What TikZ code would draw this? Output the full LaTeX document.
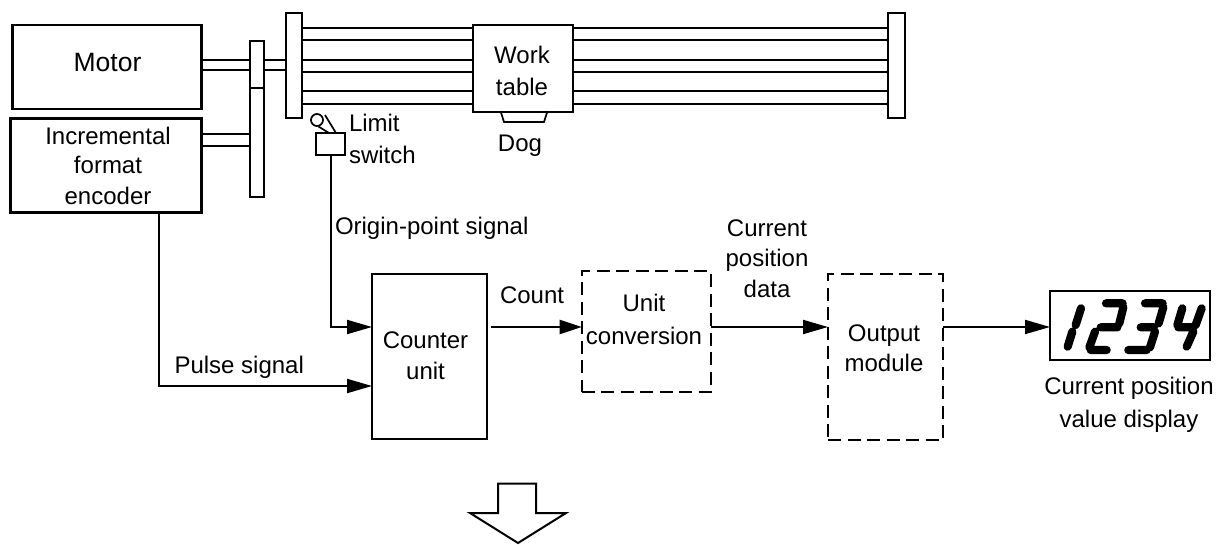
\documentclass[tikz,border=0pt]{standalone}
\usepackage{fontspec}
\setmainfont{Liberation Sans}
\usetikzlibrary{arrows.meta}
\tikzset{
  x=1pt,y=-1pt,
  every node/.style={font=\fontsize{24}{31}\selectfont,inner sep=0pt,outer sep=0pt},
  thickbox/.style={draw,line width=2.6pt,fill=white},
  mech/.style={draw,line width=2pt,fill=white},
  plain/.style={draw,line width=2pt,fill=white},
  dashbox/.style={draw,line width=2pt,dash pattern=on 13pt off 6.5pt,fill=white},
  shaft/.style={line width=2pt},
  rail/.style={line width=2pt},
  sig/.style={line width=2pt,-{Triangle[length=25pt,width=14pt]}},
  lab/.style={align=center},
  seg/.style={line width=8.2pt,line cap=round}
}
\begin{document}
\begin{tikzpicture}
\useasboundingbox (0,0) rectangle (1217,544);
% shafts first
\coordinate (m1) at (201,59.5); \coordinate (m2) at (201,69.5);
\coordinate (e1) at (201,134); \coordinate (e2) at (201,145.5);
\draw[shaft] (m1) -- (286,59.5) (m2) -- (286,69.5) (e1) -- (250,134) (e2) -- (250,145.5);
% rails
\foreach \y in {27.5,40,59.5,72,91,104}{ \draw[rail] (301,\y) -- (888,\y); }
\node[mech,minimum width=14pt,minimum height=156pt,anchor=north west] (gear) at (250,41) {};
\draw[line width=2pt] (250,88) -- (264,88);
\node[mech,minimum width=15.5pt,minimum height=105pt,anchor=north west] (plateL) at (286,13) {};
\node[mech,minimum width=17pt,minimum height=105pt,anchor=north west] (plateR) at (888,13) {};
\node[thickbox,minimum width=189pt,minimum height=84pt,anchor=north west] (motor) at (12.5,25) {};
\node[font=\fontsize{26.5}{31}\selectfont] at (107.5,63) {Motor};
\node[thickbox,minimum width=191pt,minimum height=94pt,anchor=north west] (enc) at (10.5,118.5) {};
\node[lab] at (108,136) {Incremental};
\node[lab] at (108,165) {format};
\node[lab] at (108,196) {encoder};
% work table
\node[plain,minimum width=100pt,minimum height=87pt,anchor=north west] (table) at (473,24.5) {};
\node at (522,55) {Work};
\node at (522,87) {table};
\draw[line width=1.7pt] (500.5,111) -- (504,122) -- (544,122) -- (547.5,111);
\node at (520,146) {Dog};
% limit switch
\draw[line width=1.7pt] (325,115) -- (336,133) (318.5,126.5) -- (329,133);
\draw[line width=1.7pt,fill=white] (317,120) circle (6);
\node[plain,minimum width=29pt,minimum height=22pt,anchor=north west] (switch) at (316,133) {};
\node[anchor=west] at (349,123) {Limit};
\node[anchor=west] at (349,155) {switch};
% blocks
\node[plain,minimum width=115pt,minimum height=165.5pt,anchor=north west] (counter) at (372,273.5) {};
\node at (425.5,340) {Counter};
\node at (425.5,371) {unit};
\node[dashbox,minimum width=129pt,minimum height=121pt,anchor=north west] (unitc) at (581.7,271) {};
\node at (644,303) {Unit};
\node at (644,336) {conversion};
\node[dashbox,minimum width=115pt,minimum height=166pt,anchor=north west] (output) at (828,274) {};
\node at (884,336) {Output};
\node at (884,363) {module};
\node[draw,line width=2pt,minimum width=160pt,minimum height=69pt,anchor=north west] (disp) at (1050,291) {};
% connectors
\coordinate (y1) at (0,327); \coordinate (y2) at (0,386);
\coordinate (p0) at (159,212); \coordinate (c0) at (491,327);
\draw[sig] (switch.south) |- (counter.west |- y1);
\draw[sig] (p0) |- (counter.west |- y2);
\draw[line width=2pt,-{Triangle[length=22pt,width=14pt]}] (c0) -- (unitc.west |- y1);
\draw[sig] (unitc.east |- y1) -- (output.west |- y1);
\draw[sig] (output.east |- y1) -- (disp.west |- y1);
% labels
\node[anchor=west] at (335,228) {Origin-point signal};
\node[anchor=west] at (174.5,367) {Pulse signal};
\node[anchor=west] at (500,295) {Count};
\node at (767,228) {Current};
\node at (767,260) {position};
\node at (767,289) {data};
\node at (1129,388) {Current position};
\node at (1129,421) {value display};
% digits
\begin{scope}[shift={(1030,270)},scale=1/3]
\draw[seg] (153,115) -- (137,165) (127,185) -- (113,230);
\draw[seg] (228,100) -- (278,100) (280,112) -- (268,160) (262,172) -- (212,172) (195,185) -- (178,232) (182,240) -- (230,240);
\draw[seg] (345,100) -- (398,100) (400,112) -- (386,160) (372,172) -- (332,172) (375,185) -- (360,232) (350,240) -- (295,240);
\draw[seg] (457,115) -- (442,165) (445,172) -- (490,172) (515,115) -- (497,165) (490,185) -- (470,230);
\end{scope}
% big arrow
\draw[line width=2pt] (470,513) -- (498,513) -- (498,483.5) -- (536,483.5) -- (536,513) -- (566,513) -- (518,543) -- cycle;
\end{tikzpicture}
\end{document}
